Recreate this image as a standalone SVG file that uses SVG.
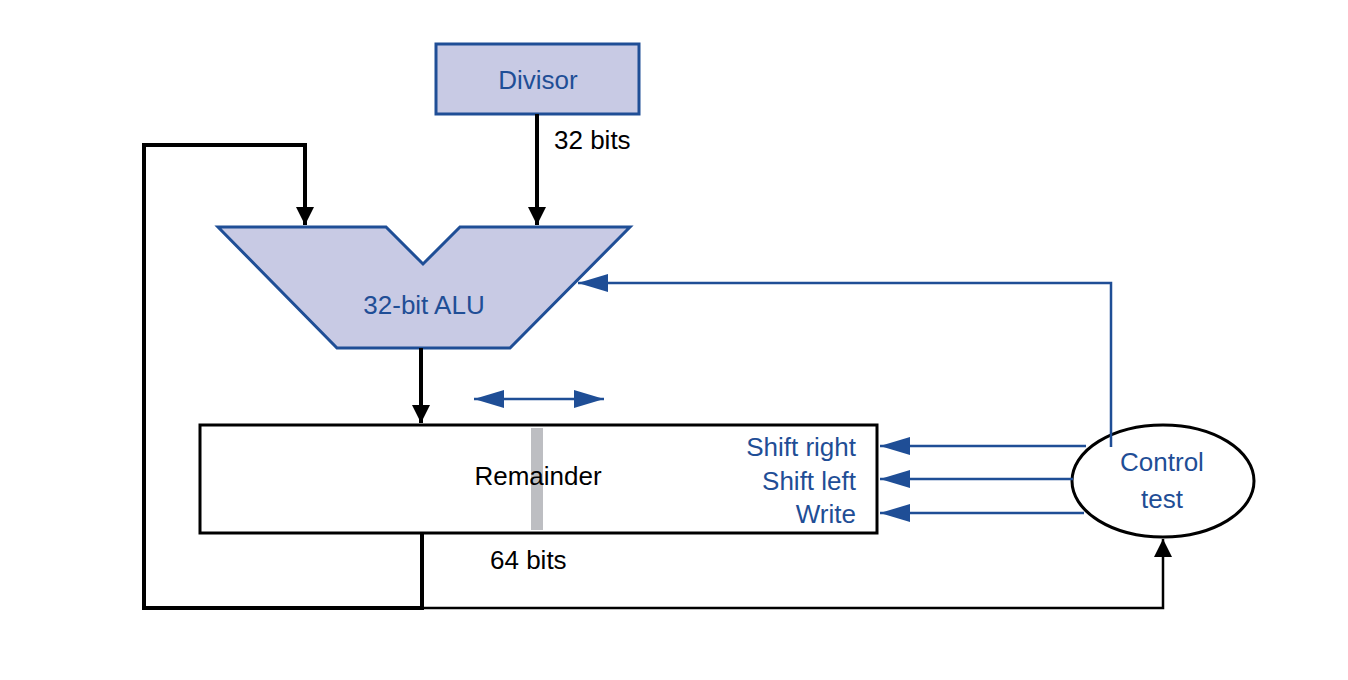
<svg xmlns="http://www.w3.org/2000/svg" width="1348" height="680" viewBox="0 0 1348 680">
<style>
text{font-family:"Liberation Sans",Arial,sans-serif;font-size:26px}
.b{fill:#1f4e96}.k{fill:#000}
.blk{stroke:#000;stroke-width:4;fill:none}
.blu{stroke:#1f4e96;stroke-width:2.5;fill:none}
</style>
<defs>
<marker id="ak" viewBox="0 0 10 10" refX="10" refY="5" markerWidth="18" markerHeight="18" markerUnits="userSpaceOnUse" orient="auto"><path d="M0,0L10,5L0,10z" fill="#000"/></marker>
<marker id="ak2" viewBox="0 0 10 10" refX="10" refY="5" markerWidth="18" markerHeight="18" markerUnits="userSpaceOnUse" orient="auto"><path d="M0,0L10,5L0,10z" fill="#000"/></marker>
<marker id="ab" viewBox="0 0 10 10" refX="10" refY="5" markerWidth="30" markerHeight="18" markerUnits="userSpaceOnUse" orient="auto-start-reverse" preserveAspectRatio="none"><path d="M0,0L10,5L0,10z" fill="#1f4e96"/></marker>
</defs>
<rect width="1348" height="680" fill="#fff"/>
<g id="divisor"><rect x="436" y="44" width="203" height="70" fill="#c8cae4" stroke="#1f4e96" stroke-width="3"/><text class="b" x="538" y="89" text-anchor="middle">Divisor</text></g>
<g id="alu"><polygon points="218,227 386,227 423,264 460,227 630,227 510,348 337,348" fill="#c8cae4" stroke="#1f4e96" stroke-width="3"/><text class="b" x="424" y="314" text-anchor="middle">32-bit ALU</text></g>
<g id="remainder"><rect x="200" y="425" width="677" height="108" fill="#fff" stroke="#000" stroke-width="3"/><rect x="531" y="428" width="12" height="102" fill="#bdbec2"/>
<text class="k" x="538" y="485" text-anchor="middle">Remainder</text>
<text class="b" x="856" y="456" text-anchor="end">Shift right</text>
<text class="b" x="856" y="490" text-anchor="end">Shift left</text>
<text class="b" x="856" y="523" text-anchor="end">Write</text></g>
<g id="control"><ellipse cx="1163" cy="481" rx="91" ry="56" fill="#fff" stroke="#000" stroke-width="3"/><text class="b" x="1162" y="471" text-anchor="middle">Control</text><text class="b" x="1162" y="508" text-anchor="middle">test</text></g>
<g id="connectors">
<path class="blk" d="M537,114V225" marker-end="url(#ak)"/>
<path class="blk" d="M421,348V423" marker-end="url(#ak)"/>
<path class="blk" d="M422,533V608H144V145H305V225" marker-end="url(#ak)"/>
<path stroke="#000" stroke-width="2.5" fill="none" d="M422,608H1163V539" marker-end="url(#ak2)"/>
<path class="blu" d="M1111,447V283H578" marker-end="url(#ab)"/>
<path class="blu" d="M1086,446H880" marker-end="url(#ab)"/>
<path class="blu" d="M1073,479H880" marker-end="url(#ab)"/>
<path class="blu" d="M1084,513H880" marker-end="url(#ab)"/>
<path class="blu" d="M474,399H604" marker-start="url(#ab)" marker-end="url(#ab)"/>
</g>
<text class="k" x="554" y="149">32 bits</text>
<text class="k" x="490" y="569">64 bits</text>
</svg>
